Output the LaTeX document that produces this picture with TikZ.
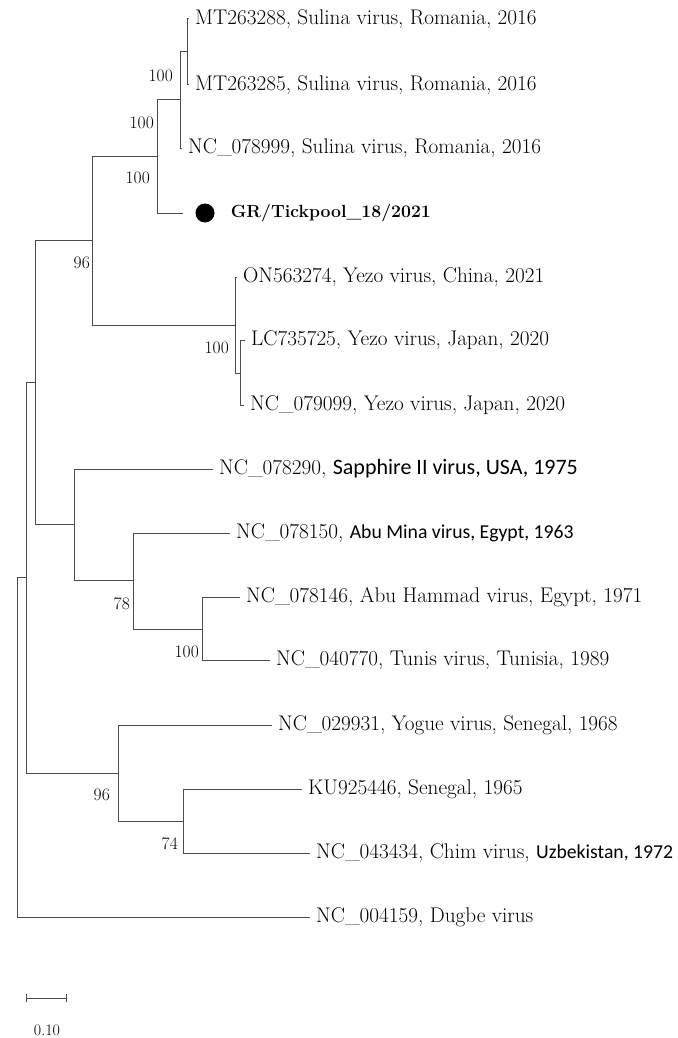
\documentclass[tikz,border=0pt]{standalone}
\usepackage{fontspec}
\newfontfamily\carlito{Carlito}
\usetikzlibrary{arrows.meta,positioning}

\newcommand\calib[2][19.7]{{\carlito\fontsize{#1}{24}\selectfont #2}}

\tikzset{
  branch/.style={draw=black!70, line width=1pt},
  leaf/.style={anchor=west, inner xsep=6pt, inner ysep=0pt, font=\fontsize{21.2}{24}\selectfont},
  boot/.style={anchor=east, inner sep=0pt, font=\fontsize{17.5}{20}\selectfont},
}

\begin{document}
\begin{tikzpicture}[x=1pt, y=-1pt]
    \useasboundingbox (0,0) rectangle (677,1038);

    % Internal nodes of the tree.
    \coordinate (nA) at (187,52);
    \coordinate (nB) at (180,100);
    \coordinate (nC) at (157,156);
    \coordinate (nD) at (92,240);
    \coordinate (nE) at (235,325);
    \coordinate (nF) at (240,373);
    \coordinate (nG) at (35,382);
    \coordinate (nH) at (74,524);
    \coordinate (nJ) at (133,580);
    \coordinate (nK) at (202,629);
    \coordinate (nI) at (26,577);
    \coordinate (nL) at (118,773);
    \coordinate (nM) at (183,821);
    \coordinate (root) at (17,747);

    % Leaves.
    \node[leaf] (mt288) at (189,19) {MT263288, Sulina virus, Romania, 2016};
    \node[leaf] (mt285) at (189,85) {MT263285, Sulina virus, Romania, 2016};
    \node[leaf] (nc999) at (182,148) {NC\_078999, Sulina virus, Romania, 2016};
    \coordinate (grtip) at (183,213);
    \node[circle, fill, minimum size=19pt, inner sep=0pt] (grdot) at (205,213) {};
    \node[leaf, font=\fontsize{17.6}{20}\selectfont\bfseries, right=0pt of grdot, xshift=10pt] (gr) {GR/Tickpool\_18/2021};
    \node[leaf] (on274) at (237,277) {ON563274, Yezo virus, China, 2021};
    \node[leaf] (lc725) at (245,340) {LC735725, Yezo virus, Japan, 2020};
    \node[leaf] (nc099) at (244,405) {NC\_079099, Yezo virus, Japan, 2020};
    \node[leaf] (nc290) at (213,469) {NC\_078290, \calib[22]{Sapphire II virus, USA, 1975}};
    \node[leaf] (nc150) at (230,533) {NC\_078150, \calib{Abu Mina virus, Egypt, 1963}};
    \node[leaf] (nc146) at (240,597) {NC\_078146, Abu Hammad virus, Egypt, 1971};
    \node[leaf] (nc770) at (270,660) {NC\_040770, Tunis virus, Tunisia, 1989};
    \node[leaf] (nc931) at (272,725) {NC\_029931, Yogue virus, Senegal, 1968};
    \node[leaf] (ku446) at (302,789) {KU925446, Senegal, 1965};
    \node[leaf] (nc434) at (310,853) {NC\_043434, Chim virus, \calib{Uzbekistan, 1972}};
    \node[leaf] (nc159) at (310,917) {NC\_004159, Dugbe virus};

    % Branches.
    \draw[branch] (nA) |- (mt288.west) (nA) |- (mt285.west);
    \draw[branch] (nB) |- (nA) (nB) |- (nc999.west);
    \draw[branch] (nC) |- (nB) (nC) |- (grtip);
    \draw[branch] (nF) |- (lc725.west) (nF) |- (nc099.west);
    \draw[branch] (nE) |- (on274.west) (nE) |- (nF);
    \draw[branch] (nD) |- (nC) (nD) |- (nE);
    \draw[branch] (nK) |- (nc146.west) (nK) |- (nc770.west);
    \draw[branch] (nJ) |- (nc150.west) (nJ) |- (nK);
    \draw[branch] (nH) |- (nc290.west) (nH) |- (nJ);
    \draw[branch] (nG) |- (nD) (nG) |- (nH);
    \draw[branch] (nM) |- (ku446.west) (nM) |- (nc434.west);
    \draw[branch] (nL) |- (nc931.west) (nL) |- (nM);
    \draw[branch] (nI) |- (nG) (nI) |- (nL);
    \draw[branch] (root) |- (nI) (root) |- (nc159.west);

    % Bootstrap values.
    \node[boot] (bA) at (173,76) {100};
    \node[boot] (bB) at (154,123) {100};
    \node[boot] (bC) at (150,178) {100};
    \node[boot] (bD) at (90,263) {96};
    \node[boot] (bE) at (229,348) {100};
    \node[boot] (bJ) at (130,604) {78};
    \node[boot] (bK) at (199,652) {100};
    \node[boot] (bL) at (110,795) {96};
    \node[boot] (bM) at (178,844) {74};

    % Scale bar.
    \coordinate (sb1) at (26,998);
    \coordinate (sb2) at (67,998);
    \draw[branch, {Bar[width=8pt]}-{Bar[width=8pt]}] (sb1) -- (sb2);
    \node[font=\fontsize{16}{18}\selectfont] (sbl) at (47,1030) {0.10};
\end{tikzpicture}
\end{document}
